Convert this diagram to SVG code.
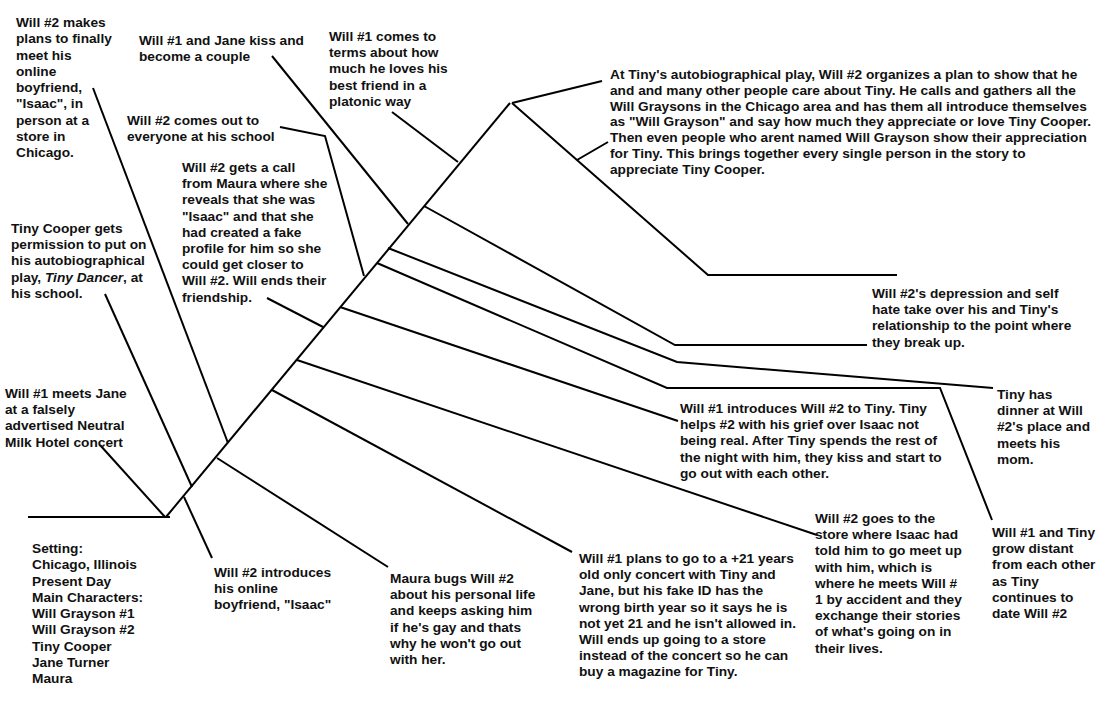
<svg xmlns="http://www.w3.org/2000/svg" width="1100" height="719" viewBox="0 0 1100 719">
<style>
text{font-family:"Liberation Sans",Arial,sans-serif;font-weight:bold;font-size:13.7px;fill:#111}
.c{fill:none;stroke:#000;stroke-width:2;stroke-linejoin:miter}
</style>
<rect width="1100" height="719" fill="#fff"/>
<g id="connectors">
<path class="c" d="M28,517 H170"/>
<path class="c" d="M166,517 L510,103"/>
<path class="c" d="M512,103 L602,81"/>
<path class="c" d="M512,103 L708,275 H897"/>
<path class="c" d="M577,160 L608,142"/>
<path class="c" d="M100,445 L165,517"/>
<path class="c" d="M105,294 L192,487"/>
<path class="c" d="M93,88 L228,443"/>
<path class="c" d="M184,497 L212,558"/>
<path class="c" d="M217,458 L388,567"/>
<path class="c" d="M272,390 L572,552"/>
<path class="c" d="M297,360 L817,535"/>
<path class="c" d="M267,298 L323,327"/>
<path class="c" d="M340,307 L678,421"/>
<path class="c" d="M280,127 L325,136 L364,276"/>
<path class="c" d="M377,263 L667,388 H940 L992,520"/>
<path class="c" d="M388,248 L677,362 L993,388"/>
<path class="c" d="M424,206 L675,345 H867"/>
<path class="c" d="M272,56 L408,224"/>
<path class="c" d="M392,112 L458,162"/>
</g>
<g id="n-plans"><text x="16" y="27">Will #2 makes<tspan x="16" dy="16.25">plans to finally</tspan><tspan x="16" dy="16.25">meet his</tspan><tspan x="16" dy="16.25">online</tspan><tspan x="16" dy="16.25">boyfriend,</tspan><tspan x="16" dy="16.25">"Isaac", in</tspan><tspan x="16" dy="16.25">person at a</tspan><tspan x="16" dy="16.25">store in</tspan><tspan x="16" dy="16.25">Chicago.</tspan></text></g>
<g id="n-kiss"><text x="139" y="45">Will #1 and Jane kiss and<tspan x="139" dy="16.2">become a couple</tspan></text></g>
<g id="n-terms"><text x="329" y="41">Will #1 comes to<tspan x="329" dy="16.2">terms about how</tspan><tspan x="329" dy="16.2">much he loves his</tspan><tspan x="329" dy="16.2">best friend in a</tspan><tspan x="329" dy="16.2">platonic way</tspan></text></g>
<g id="n-play"><text x="610" y="79">At Tiny's autobiographical play, Will #2 organizes a plan to show that he<tspan x="610" dy="15.8">and and many other people care about Tiny. He calls and gathers all the</tspan><tspan x="610" dy="15.8">Will Graysons in the Chicago area and has them all introduce themselves</tspan><tspan x="610" dy="15.8">as "Will Grayson" and say how much they appreciate or love Tiny Cooper.</tspan><tspan x="610" dy="15.8">Then even people who arent named Will Grayson show their appreciation</tspan><tspan x="610" dy="15.8">for Tiny. This brings together every single person in the story to</tspan><tspan x="610" dy="15.8">appreciate Tiny Cooper.</tspan></text></g>
<g id="n-out"><text x="127" y="125">Will #2 comes out to<tspan x="127" dy="16.2">everyone at his school</tspan></text></g>
<g id="n-call"><text x="182" y="172">Will #2 gets a call<tspan x="182" dy="16.2">from Maura where she</tspan><tspan x="182" dy="16.2">reveals that she was</tspan><tspan x="182" dy="16.2">"Isaac" and that she</tspan><tspan x="182" dy="16.2">had created a fake</tspan><tspan x="182" dy="16.2">profile for him so she</tspan><tspan x="182" dy="16.2">could get closer to</tspan><tspan x="182" dy="16.2">Will #2. Will ends their</tspan><tspan x="182" dy="16.2">friendship.</tspan></text></g>
<g id="n-permission"><text x="11" y="233">Tiny Cooper gets<tspan x="11" dy="16.2">permission to put on</tspan><tspan x="11" dy="16.2">his autobiographical</tspan><tspan x="11" dy="16.2">play, <tspan font-style="italic">Tiny Dancer</tspan>, at</tspan><tspan x="11" dy="16.2">his school.</tspan></text></g>
<g id="n-meets"><text x="5" y="398">Will #1 meets Jane<tspan x="5" dy="16.2">at a falsely</tspan><tspan x="5" dy="16.2">advertised Neutral</tspan><tspan x="5" dy="16.2">Milk Hotel concert</tspan></text></g>
<g id="n-setting"><text x="32" y="553">Setting:<tspan x="32" dy="16.25">Chicago, Illinois</tspan><tspan x="32" dy="16.25">Present Day</tspan><tspan x="32" dy="16.25">Main Characters:</tspan><tspan x="32" dy="16.25">Will Grayson #1</tspan><tspan x="32" dy="16.25">Will Grayson #2</tspan><tspan x="32" dy="16.25">Tiny Cooper</tspan><tspan x="32" dy="16.25">Jane Turner</tspan><tspan x="32" dy="16.25">Maura</tspan></text></g>
<g id="n-introduces"><text x="214" y="577">Will #2 introduces<tspan x="214" dy="16.2">his online</tspan><tspan x="214" dy="16.2">boyfriend, "Isaac"</tspan></text></g>
<g id="n-maura"><text x="390" y="583">Maura bugs Will #2<tspan x="390" dy="16.2">about his personal life</tspan><tspan x="390" dy="16.2">and keeps asking him</tspan><tspan x="390" dy="16.2">if he's gay and thats</tspan><tspan x="390" dy="16.2">why he won't go out</tspan><tspan x="390" dy="16.2">with her.</tspan></text></g>
<g id="n-concert"><text x="579" y="563">Will #1 plans to go to a +21 years<tspan x="579" dy="16.2">old only concert with Tiny and</tspan><tspan x="579" dy="16.2">Jane, but his fake ID has the</tspan><tspan x="579" dy="16.2">wrong birth year so it says he is</tspan><tspan x="579" dy="16.2">not yet 21 and he isn't allowed in.</tspan><tspan x="579" dy="16.2">Will ends up going to a store</tspan><tspan x="579" dy="16.2">instead of the concert so he can</tspan><tspan x="579" dy="16.2">buy a magazine for Tiny.</tspan></text></g>
<g id="n-store"><text x="815" y="523">Will #2 goes to the<tspan x="815" dy="16.2">store where Isaac had</tspan><tspan x="815" dy="16.2">told him to go meet up</tspan><tspan x="815" dy="16.2">with him, which is</tspan><tspan x="815" dy="16.2">where he meets Will #</tspan><tspan x="815" dy="16.2">1 by accident and they</tspan><tspan x="815" dy="16.2">exchange their stories</tspan><tspan x="815" dy="16.2">of what's going on in</tspan><tspan x="815" dy="16.2">their lives.</tspan></text></g>
<g id="n-distant"><text x="992" y="537">Will #1 and Tiny<tspan x="992" dy="16.2">grow distant</tspan><tspan x="992" dy="16.2">from each other</tspan><tspan x="992" dy="16.2">as Tiny</tspan><tspan x="992" dy="16.2">continues to</tspan><tspan x="992" dy="16.2">date Will #2</tspan></text></g>
<g id="n-dinner"><text x="997" y="399">Tiny has<tspan x="997" dy="16.2">dinner at Will</tspan><tspan x="997" dy="16.2">#2's place and</tspan><tspan x="997" dy="16.2">meets his</tspan><tspan x="997" dy="16.2">mom.</tspan></text></g>
<g id="n-depression"><text x="872" y="298">Will #2's depression and self<tspan x="872" dy="16.2">hate take over his and Tiny's</tspan><tspan x="872" dy="16.2">relationship to the point where</tspan><tspan x="872" dy="16.2">they break up.</tspan></text></g>
<g id="n-tiny"><text x="680" y="413">Will #1 introduces Will #2 to Tiny. Tiny<tspan x="680" dy="16.2">helps #2 with his grief over Isaac not</tspan><tspan x="680" dy="16.2">being real. After Tiny spends the rest of</tspan><tspan x="680" dy="16.2">the night with him, they kiss and start to</tspan><tspan x="680" dy="16.2">go out with each other.</tspan></text></g>
</svg>
